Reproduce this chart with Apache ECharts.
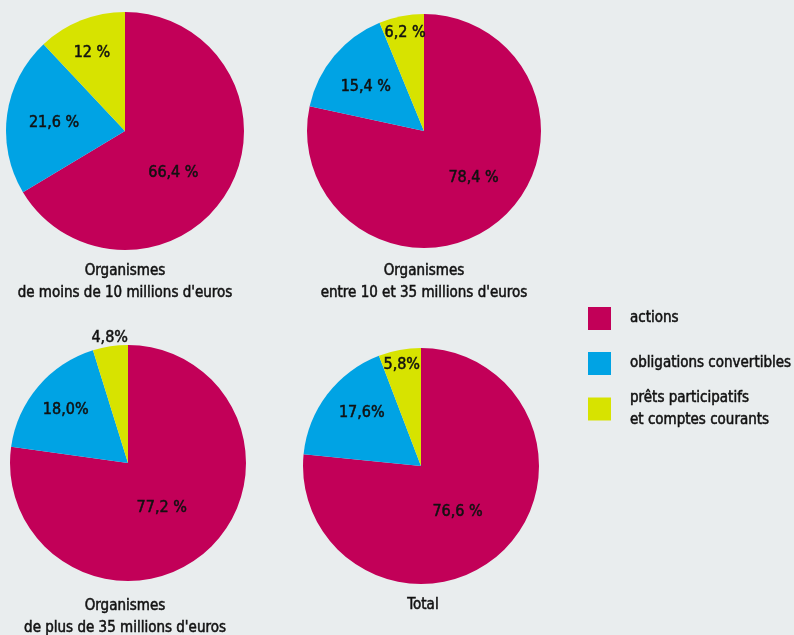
<!DOCTYPE html>
<html>
<head>
    <meta charset="utf-8">
    <title>Répartition des investissements</title>
    <script src="https://cdn.jsdelivr.net/npm/echarts@6/dist/echarts.min.js"></script>
    <style>
        html, body { margin: 0; padding: 0; background: #e9edee; }
        #main { width: 794px; height: 635px; }
    </style>
</head>
<body>
    <div id="main"></div>
    <script>
        // categories and values
        var categories = ['actions', 'obligations convertibles', 'prêts participatifs et comptes courants'];
        var pieTitles = [
            'Organismes\nde moins de 10 millions d\'euros',
            'Organismes\nentre 10 et 35 millions d\'euros',
            'Organismes\nde plus de 35 millions d\'euros',
            'Total'
        ];
        var valuesMoins10 = [66.4, 21.6, 12];
        var valuesEntre10_35 = [78.4, 15.4, 6.2];
        var valuesPlus35 = [77.2, 18.0, 4.8];
        var valuesTotal = [76.6, 17.6, 5.8];
        // labels as printed
        var labelsMoins10 = ['66,4 %', '21,6 %', '12 %'];
        var labelsEntre10_35 = ['78,4 %', '15,4 %', '6,2 %'];
        var labelsPlus35 = ['77,2 %', '18,0%', '4,8%'];
        var labelsTotal = ['76,6 %', '17,6%', '5,8%'];

        var allValues = [valuesMoins10, valuesEntre10_35, valuesPlus35, valuesTotal];
        var allLabels = [labelsMoins10, labelsEntre10_35, labelsPlus35, labelsTotal];

        // layout (pixels)
        var colors = ['#c20058', '#00a3e4', '#d7e300'];
        var centers = [[125, 131], [424, 131], [128, 463], [421, 466]];
        var radii = [119, 117, 118, 118];
        var titlePos = [[125, 260], [424, 260], [125, 595], [423, 594]];
        // label shift from the default "inside" position [dx, dy]
        var labelShift = [
            [[-6, 11], [-9, 0], [-10, -20]],
            [[11, -1], [-11, -5], [-7, -38]],
            [[-7, -2], [-15, -13], [-9, -64]],
            [[-5, 0], [-10, -15], [-8, -40]]
        ];

        var font = "'Liberation Sans Narrow', 'DejaVu Sans Condensed', 'Roboto', sans-serif";
        var textColor = '#111111';
        // slight stroke to mimic the medium weight of the original type
        var textThicken = { textBorderColor: textColor, textBorderWidth: 0.5 };

        var series = allValues.map(function (vals, p) {
            return {
                type: 'pie',
                center: centers[p],
                radius: radii[p],
                startAngle: 90,
                clockwise: true,
                silent: true,
                animation: false,
                labelLine: { show: false },
                label: Object.assign({
                    show: true,
                    position: 'inside',
                    color: textColor,
                    fontFamily: font,
                    fontSize: 16,
                    formatter: function (params) {
                        return allLabels[p][params.dataIndex];
                    }
                }, textThicken),
                labelLayout: function (params) {
                    var s = labelShift[p][params.dataIndex];
                    return { dx: s[0], dy: s[1] };
                },
                data: vals.map(function (v, i) {
                    return {
                        name: categories[i],
                        value: v,
                        itemStyle: { color: colors[i] }
                    };
                })
            };
        });

        var titles = pieTitles.map(function (t, p) {
            return {
                text: t,
                left: titlePos[p][0],
                top: titlePos[p][1],
                textAlign: 'center',
                padding: 0,
                textStyle: Object.assign({
                    fontFamily: font,
                    fontSize: 15,
                    fontWeight: 'normal',
                    color: textColor,
                    lineHeight: 22
                }, textThicken)
            };
        });

        var legendTops = [307, 352, 387];
        var legends = categories.map(function (c, i) {
            return {
                data: [c],
                orient: 'vertical',
                left: 588,
                top: legendTops[i],
                padding: 0,
                icon: 'rect',
                itemWidth: 23,
                itemHeight: 23,
                selectedMode: false,
                formatter: function (name) {
                    return name.replace(' et ', '\net ');
                },
                textStyle: Object.assign({
                    fontFamily: font,
                    fontSize: 15,
                    color: textColor,
                    lineHeight: 22,
                    padding: [0, 0, 0, 14]
                }, textThicken)
            };
        });

        var myChart = echarts.init(document.getElementById('main'));
        myChart.setOption({
            backgroundColor: '#e9edee',
            animation: false,
            title: titles,
            legend: legends,
            series: series
        });
    </script>
</body>
</html>
